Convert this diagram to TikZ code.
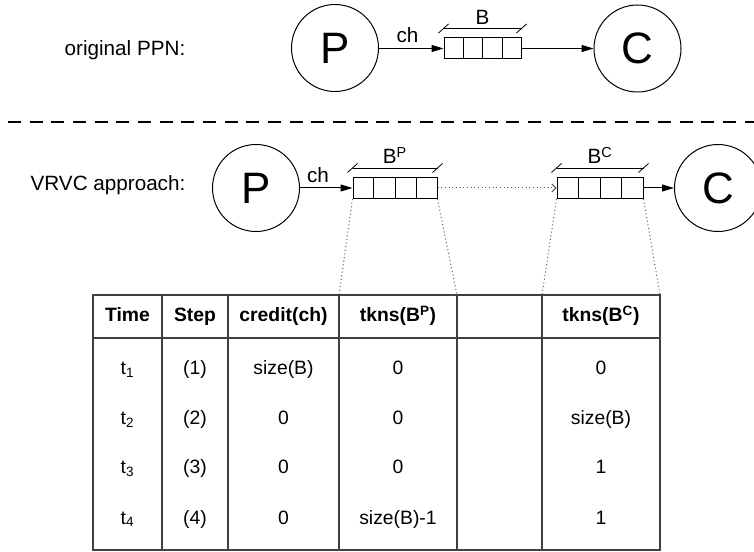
\documentclass[tikz,border=0pt]{standalone}
\usepackage{fontspec}
\setmainfont{Liberation Sans}
\usetikzlibrary{arrows.meta,calc}
\newcommand\mybracket[2]{%
  \draw[line width=0.6pt] ($(#1.north west)+(0,-9)$) -- ($(#1.north east)+(0,-9)$);
  \draw[line width=0.6pt] ($(#1.north west)+(-5,-4.5)$) -- ($(#1.north west)+(5,-13.5)$);
  \draw[line width=0.6pt] ($(#1.north east)+(-5,-4.5)$) -- ($(#1.north east)+(5,-13.5)$);
  \node[lbl,anchor=base] (#1lab) at ($(#1.north)+(0,-13)$) {#2};
  \foreach \i in {1,2,3}
    \draw[line width=0.75pt] ($(#1.north west)!\i/4!(#1.north east)$) -- ($(#1.south west)!\i/4!(#1.south east)$);
}
\begin{document}
\begin{tikzpicture}[x=0.75pt,y=-0.75pt,
  proc/.style={circle,draw,line width=0.75pt,minimum size=65.25pt,inner sep=0pt,font=\fontsize{33}{36}\selectfont},
  buf/.style={rectangle,draw,line width=0.75pt,minimum height=15.75pt,inner sep=0pt},
  lbl/.style={font=\fontsize{15.5}{18}\selectfont,inner sep=0pt},
  arr/.style={-{Triangle[length=9pt,width=5.25pt]},line width=0.75pt},
  dotline/.style={dotted,line width=0.75pt,draw=black!65},
  tbl/.style={line width=1pt,draw=black!75},
  cell/.style={font=\fontsize{14.5}{17}\selectfont,inner sep=0pt,anchor=base},
  hdr/.style={font=\bfseries\fontsize{14.5}{17}\selectfont,inner sep=0pt,anchor=base}]
\useasboundingbox (0,0) rectangle (754,552);

% top row
\node[lbl,anchor=base] (lorig) at (125,55.5) {original PPN:};
\node[proc] (P1) at (335,48) {P};
\node[proc] (C1) at (637.5,48.5) {C};
\node[buf,minimum width=57.75pt] (b1) at (482.5,48.5) {};
\mybracket{b1}{B}
\draw[arr] (P1.east |- b1.west) -- (b1.west);
\draw[arr] (b1.east) -- (C1.west);
\node[lbl,anchor=base] (ch1) at (407.5,43) {ch};

% separator
\coordinate (sepL) at (8,122);
\coordinate (sepR) at (754,122);
\draw[line width=1.5pt,dash pattern=on 9.75pt off 6.5pt] (sepL) -- (sepR);

% second row
\node[lbl,anchor=base] (lvrvc) at (108,190.5) {VRVC approach:};
\node[proc] (P2) at (256,188) {P};
\node[proc] (C2) at (718,188) {C};
\node[buf,minimum width=63pt] (bP) at (395,188) {};
\node[buf,minimum width=64.5pt] (bC) at (600,188) {};
\mybracket{bP}{B\textsuperscript{P}}
\mybracket{bC}{B\textsuperscript{C}}
\draw[arr] (P2.east) -- (bP.west);
\draw[dotline,-{Straight Barb[length=3pt,width=6pt]}] (bP.east) -- (bC.west);
\draw[arr] (bC.east) -- (C2.west);
\node[lbl,anchor=base] (ch2) at (318,183) {ch};

% table
\draw[tbl] (93,295) rectangle (660,550);
\draw[tbl] (93,338) -- (660,338);
\foreach \x in {162,228,339,457,542} \draw[tbl] (\x,295) -- (\x,550);

\coordinate (tP1) at (339,295);
\coordinate (tP2) at (457,295);
\coordinate (tC1) at (542,295);
\coordinate (tC2) at (660,295);
\draw[dotline] (bP.south west) -- (tP1);
\draw[dotline] (bP.south east) -- (tP2);
\draw[dotline] (bC.south west) -- (tC1);
\draw[dotline] (bC.south east) -- (tC2);

\node[hdr] (hTime) at (127.5,322) {Time};
\node[hdr] (hStep) at (195,322) {Step};
\node[hdr] (hCred) at (283.5,322) {credit(ch)};
\node[hdr] (hTP) at (398,322) {tkns(B\textsuperscript{P})};
\node[hdr] (hTC) at (601,322) {tkns(B\textsuperscript{C})};

\foreach \y/\t/\s/\c/\p/\q in {375/1/{(1)}/{size(B)}/0/0, 425/2/{(2)}/0/0/{size(B)}, 474/3/{(3)}/0/0/1, 524/4/{(4)}/0/{size(B)-1}/1} {
  \node[cell] (rt\t) at (127.5,\y) {t\textsubscript{\t}};
  \node[cell] (rs\t) at (195,\y) {\s};
  \node[cell] (rc\t) at (283.5,\y) {\c};
  \node[cell] (rp\t) at (398,\y) {\p};
  \node[cell] (rq\t) at (601,\y) {\q};
}
\end{tikzpicture}
\end{document}
